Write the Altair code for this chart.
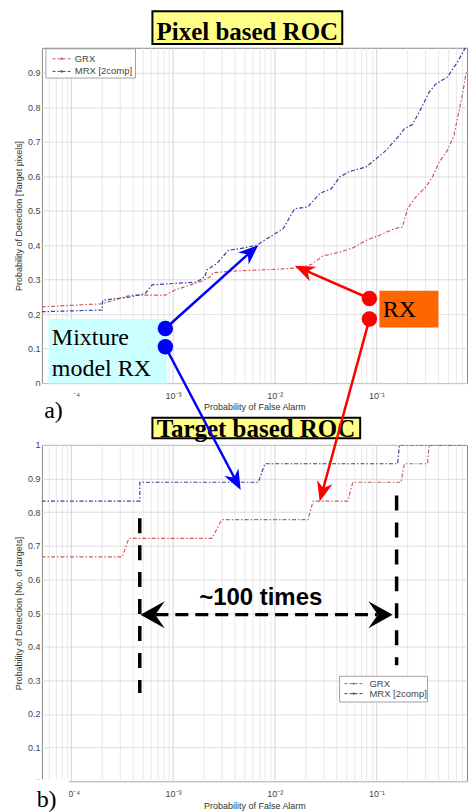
import altair as alt
import pandas as pd

# ---------------- data ----------------
# a) pixel based ROC
top_grx_fpr = [5.1e-5, 2.02e-4, 3.82e-4, 8.4e-4, 1.05e-3, 1.85e-3, 2.32e-3, 2.48e-3, 3.89e-3, 1.04e-2,
               1.64e-2, 2.29e-2, 2.98e-2, 4.34e-2, 5.85e-2, 7.91e-2, 0.107, 0.150, 0.180, 0.202,
               0.244, 0.305, 0.355, 0.413, 0.498, 0.578, 0.623, 0.697, 0.753, 0.80]
top_grx_pd = [0.221, 0.23, 0.255, 0.255, 0.27, 0.294, 0.308, 0.32, 0.325, 0.33,
              0.334, 0.344, 0.369, 0.38, 0.392, 0.414, 0.429, 0.448, 0.453, 0.506,
              0.54, 0.569, 0.598, 0.641, 0.675, 0.719, 0.767, 0.835, 0.893, 0.92]
top_mrx_fpr = [5.1e-5, 2.02e-4, 2.03e-4, 3.82e-4, 5.35e-4, 6.23e-4, 1.72e-3, 2.07e-3, 2.15e-3, 2.70e-3,
               3.50e-3, 4.56e-3, 6.64e-3, 8.95e-3, 1.21e-2, 1.57e-2, 2.12e-2, 2.76e-2, 3.60e-2, 4.34e-2,
               5.43e-2, 7.91e-2, 9.91e-2, 0.124, 0.168, 0.188, 0.226, 0.273, 0.329, 0.383,
               0.498, 0.623, 0.753, 0.80]
top_mrx_pd = [0.207, 0.212, 0.24, 0.25, 0.26, 0.285, 0.293, 0.31, 0.328, 0.347,
              0.385, 0.39, 0.40, 0.424, 0.448, 0.506, 0.511, 0.55, 0.564, 0.598,
              0.614, 0.627, 0.651, 0.675, 0.719, 0.738, 0.75, 0.796, 0.844, 0.868,
              0.888, 0.931, 0.975, 1.0]
# b) target based ROC
bot_grx_fpr = [5.1e-5, 3.17e-4, 3.68e-4, 2.41e-3, 3.02e-3, 2.12e-2, 2.38e-2, 5.22e-2, 5.85e-2, 0.174,
               0.188, 0.317, 0.329, 0.80]
bot_grx_pd = [0.667, 0.667, 0.722, 0.722, 0.778, 0.778, 0.833, 0.833, 0.889, 0.889,
              0.944, 0.944, 1.0, 1.0]
bot_mrx_fpr = [5.1e-5, 4.71e-4, 4.72e-4, 6.89e-3, 8.0e-3, 0.161, 0.168, 0.80]
bot_mrx_pd = [0.833, 0.833, 0.889, 0.889, 0.944, 0.944, 1.0, 1.0]

series_names = ['GRX', 'MRX [2comp]']
x_decades = [-4, -3, -2, -1]
x_decade_labels = ['10⁻⁴', '10⁻³', '10⁻²', '10⁻¹']
top_y_ticks = [0, 0.1, 0.2, 0.3, 0.4, 0.5, 0.6, 0.7, 0.8, 0.9]
bot_y_ticks = [0, 0.1, 0.2, 0.3, 0.4, 0.5, 0.6, 0.7, 0.8, 0.9, 1]
top_y_title = 'Probability of Detection [Target pixels]'
bot_y_title = 'Probability of Detection [No. of targets]'
x_title = 'Probability of False Alarm'

# ---------------- annotations (x as log10 of false-alarm prob, y in panel-b units) ----------------
box_lx1 = [-3.2025, -3.2025, -4.2231, -0.9716, -4.3474, -4.3669, -4.2495, -1.3630]
box_lx2 = [-1.3366, -1.1605, -3.0587, -0.3914, -3.9755, -4.0245, -3.3689, -0.4990]
box_y1 = [2.2898, 1.0811, 1.3742, 1.4583, 1.1761, 0.0059, 2.1779, 0.3119]
box_y2 = [2.1919, 1.0196, 1.1829, 1.3493, 1.0633, -0.0921, 2.0909, 0.2355]
box_fill = ['#ffff88', '#ffff88', '#ccffff', '#ff6600', '#ffffff', '#ffffff', '#ffffff', '#ffffff']
box_stroke = ['#000000', '#000000', '#ffffff', '#ff6600', '#ffffff', '#ffffff', '#8a8a8a', '#8a8a8a']
box_sw = [2, 2, 0, 0, 0, 0, 0.8, 0.8]

serif_texts = ['Mixture', 'model RX', 'RX', 'a)', 'b)']
serif_lx = [-4.1908, -4.1908, -0.9393, -4.2661, -4.3405]
serif_y = [1.2970, 1.2049, 1.3810, 1.0811, -0.0772]

title_texts = ['Pixel based ROC', 'Target based ROC']
title_lx = [-2.270, -2.185]
title_y = [2.2052, 1.0232]

times_text = ['~100 times']
times_lx = [-2.138]
times_y = [0.5227]

leg_texts = series_names + series_names
leg_text_lx = [-3.9658, -3.9658, -1.0695, -1.0695]
leg_y = [2.1482, 2.1108, 0.2902, 0.2605]
leg_lx1 = [-4.1840, -4.1840, -1.3141, -1.3141]
leg_lx2 = [-4.0049, -4.0049, -1.1350, -1.1350]
leg_mid = [-4.0945, -4.0945, -1.2246, -1.2246]
leg_color = ['#d05a5a', '#3d3d9e', '#d05a5a', '#3d3d9e']

arrow_lx1 = [-3.0753, -3.0753, -1.0695, -1.0695]
arrow_y1 = [1.3463, 1.2920, 1.4354, 1.3742]
arrow_lx2 = [-2.2505, -2.3894, -1.6957, -1.5274]
arrow_y2 = [1.5702, 0.8978, 1.5183, 0.8660]
arrow_color = ['#0000ff', '#0000ff', '#ff0000', '#ff0000']
head_lx = [-2.1624, -2.3346, -1.8033, -1.5587]
head_y = [1.5940, 0.8663, 1.5325, 0.8316]
head_angle = [48, 152, 294, 195]

vdash_lx = [-3.3268, -0.8023]
vdash_y1 = [0.7820, 0.8494]
vdash_y2 = [0.2622, 0.3445]
hdash_lx1 = [-3.1732]
hdash_lx2 = [-0.9912]
hdash_y = [0.4951]
dhead_lx = [-3.3200, -0.8415]
dhead_y = [0.4951, 0.4951]
dhead_angle = [270, 90]

corner_lx = [-4.6858]
corner_y = [2.3151]

# ---------------- scales / axes ----------------
XMIN = 10 ** -4.2886
XMAX = 10 ** -0.1106
grid_vals = [k * 10.0 ** n for n in range(-5, 0) for k in range(1, 10) if XMIN <= k * 10.0 ** n <= XMAX]

label_expr = ''.join(
    f"abs(log(datum.value)/LN10 - ({d})) < 0.001 ? '{lab}' : " for d, lab in zip(x_decades, x_decade_labels)
) + "''"
major_test = "abs(log(datum.value)/LN10 - round(log(datum.value)/LN10)) < 0.001"

W = 426
H_TOP = 336
H_BOT = 337

xs = alt.Scale(type='log', domain=[XMIN, XMAX], nice=False)
ys_top = alt.Scale(domain=[0, 0.9728], nice=False, zero=False)
ys_bot = alt.Scale(domain=[0, 1], nice=False, zero=False)


def x_axis():
    return alt.Axis(values=grid_vals, labelExpr=label_expr, title=x_title, titleY=24,
                    titleBaseline='middle', labelPadding=8, labelFontSize=9, titleFontSize=9,
                    grid=True, gridColor={"condition": {"test": major_test, "value": "#c9c9c9"},
                                          "value": "#e3e3e3"},
                    labelOverlap=False, labelFlush=False, labelBound=False)


def y_axis(ticks, title, h):
    return alt.Axis(values=ticks, format='~g', title=title, titleX=-23, titleY=h / 2,
                    titleAngle=270, titleBaseline='middle', labelPadding=2, labelFontSize=9,
                    titleFontSize=9, grid=True, gridColor='#d6d6d6')


def enc(ys, ax_y):
    return dict(x=alt.X('x:Q', scale=xs, axis=x_axis()), y=alt.Y('y:Q', scale=ys, axis=ax_y))


def series_df(fpr, pdv):
    return pd.DataFrame({'x': fpr, 'y': pdv, 'i': list(range(len(fpr)))})


def line_layer(fpr, pdv, color, ys, ax_y):
    return alt.Chart(series_df(fpr, pdv)).mark_line(
        color=color, strokeWidth=1.2, strokeDash=[4, 2, 1.5, 2], clip=True
    ).encode(order='i:Q', **enc(ys, ax_y))


# ---------------- panel a ----------------
ay_top = y_axis(top_y_ticks, top_y_title, H_TOP)
top = alt.layer(
    line_layer(top_grx_fpr, top_grx_pd, '#d05a5a', ys_top, ay_top),
    line_layer(top_mrx_fpr, top_mrx_pd, '#3d3d9e', ys_top, ay_top),
).properties(width=W, height=H_TOP)

# ---------------- panel b with all annotations ----------------
ay_bot = y_axis(bot_y_ticks, bot_y_title, H_BOT)
E = enc(ys_bot, ay_bot)


def ann(df):
    return alt.Chart(df).transform_calculate(x='pow(10, datum.lx)')


boxes = pd.DataFrame({'lx': box_lx1, 'lx2': box_lx2, 'y': box_y1, 'y2': box_y2,
                      'fill': box_fill, 'stroke': box_stroke, 'sw': box_sw})
box_layer = ann(boxes).transform_calculate(x2='pow(10, datum.lx2)').mark_rect().encode(
    x2='x2:Q', y2='y2:Q',
    color=alt.Color('fill:N', scale=None),
    stroke=alt.Stroke('stroke:N', scale=None),
    strokeWidth=alt.StrokeWidth('sw:Q', scale=None), **E)

serif_layer = ann(pd.DataFrame({'lx': serif_lx, 'y': serif_y, 't': serif_texts})).mark_text(
    font='Liberation Serif', fontSize=24, align='left', baseline='alphabetic', color='black'
).encode(text='t:N', **E)

title_layer = ann(pd.DataFrame({'lx': title_lx, 'y': title_y, 't': title_texts})).mark_text(
    font='Liberation Serif', fontSize=25, fontWeight='bold', align='center', baseline='alphabetic',
    color='black'
).encode(text='t:N', **E)

times_layer = ann(pd.DataFrame({'lx': times_lx, 'y': times_y, 't': times_text})).mark_text(
    font='Liberation Sans', fontSize=24, fontWeight='bold', align='center', baseline='alphabetic',
    color='black'
).encode(text='t:N', **E)

leg_lines = ann(pd.DataFrame({'lx': leg_lx1, 'lx2': leg_lx2, 'y': leg_y, 'c': leg_color})).transform_calculate(
    x2='pow(10, datum.lx2)').mark_rule(strokeWidth=1, strokeDash=[3, 2]).encode(
    x2='x2:Q', color=alt.Color('c:N', scale=None), **E)
leg_marks = ann(pd.DataFrame({'lx': leg_mid, 'y': leg_y, 'c': leg_color})).mark_circle(
    size=6, opacity=1).encode(color=alt.Color('c:N', scale=None), **E)
leg_text_layer = ann(pd.DataFrame({'lx': leg_text_lx, 'y': leg_y, 't': leg_texts})).mark_text(
    font='Liberation Sans', fontSize=9.5, align='left', baseline='middle', color='#444444'
).encode(text='t:N', **E)

arrow_lines = ann(pd.DataFrame({'lx': arrow_lx1, 'y': arrow_y1, 'lx2': arrow_lx2, 'y2': arrow_y2,
                                'c': arrow_color})).transform_calculate(x2='pow(10, datum.lx2)').mark_rule(
    strokeWidth=2.5).encode(x2='x2:Q', y2='y2:Q', color=alt.Color('c:N', scale=None), **E)

dots = ann(pd.DataFrame({'lx': arrow_lx1, 'y': arrow_y1, 'c': arrow_color})).mark_circle(
    size=240, opacity=1).encode(color=alt.Color('c:N', scale=None), **E)

heads = ann(pd.DataFrame({'lx': head_lx, 'y': head_y, 'a': head_angle, 'c': arrow_color})).mark_point(
    shape='M0,0L0.8,2L0,1.4L-0.8,2Z', filled=True, size=400, opacity=1, strokeWidth=0
).encode(angle=alt.Angle('a:Q', scale=None), color=alt.Color('c:N', scale=None), **E)

vdash = ann(pd.DataFrame({'lx': vdash_lx, 'y': vdash_y1, 'y2': vdash_y2})).mark_rule(
    strokeWidth=3.5, strokeDash=[15, 12], color='black').encode(y2='y2:Q', **E)

hdash = ann(pd.DataFrame({'lx': hdash_lx1, 'lx2': hdash_lx2, 'y': hdash_y})).transform_calculate(
    x2='pow(10, datum.lx2)').mark_rule(strokeWidth=3.3, strokeDash=[13, 7], color='black').encode(
    x2='x2:Q', **E)

dheads = ann(pd.DataFrame({'lx': dhead_lx, 'y': dhead_y, 'a': dhead_angle})).mark_point(
    shape='M0,0L1,1.8L0,1.1L-1,1.8Z', filled=True, size=729, opacity=1, strokeWidth=0, color='black'
).encode(angle=alt.Angle('a:Q', scale=None), **E)

corner = ann(pd.DataFrame({'lx': corner_lx, 'y': corner_y})).mark_square(
    size=1, color='white', opacity=1).encode(**E)

bottom = alt.layer(
    line_layer(bot_grx_fpr, bot_grx_pd, '#d05a5a', ys_bot, ay_bot),
    line_layer(bot_mrx_fpr, bot_mrx_pd, '#3d3d9e', ys_bot, ay_bot),
    corner, box_layer, leg_lines, leg_marks, leg_text_layer,
    serif_layer, title_layer, times_layer,
    vdash, hdash, dheads,
    arrow_lines, dots, heads,
).properties(width=W, height=H_BOT)

chart = alt.vconcat(top, bottom, spacing=62, bounds='flush').properties(
    padding=0, autosize=alt.AutoSizeParams(type='pad')
).configure_view(stroke='#8a8a8a', strokeWidth=1).configure_axis(
    labelFont='Liberation Sans', titleFont='Liberation Sans', labelColor='#444444',
    titleColor='#333333', titleFontWeight='normal', domain=False, ticks=False, gridWidth=0.8
)

chart.save("out.html", embed_options={"renderer": "svg", "actions": False})
